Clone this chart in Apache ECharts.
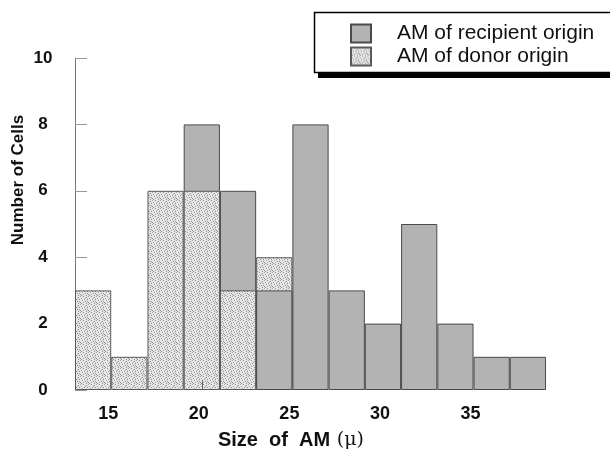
<!DOCTYPE html>
<html>
<head>
<meta charset="utf-8">
<script src="https://cdn.jsdelivr.net/npm/echarts@6/dist/echarts.min.js"></script>
<style>
html, body { margin: 0; padding: 0; background: #fff; }
#chart { width: 610px; height: 451px; }
</style>
</head>
<body>
<div id="chart"></div>
<script>
// bins are 2 units wide, centred on even sizes
var binCenters = ['14', '16', '18', '20', '22', '24', '26', '28', '30', '32', '34', '36', '38'];
var recipient = [0, 0, 0, 8, 6, 3, 8, 3, 2, 5, 2, 1, 1];
var donor = [3, 1, 6, 6, 3, 4, 0, 0, 0, 0, 0, 0, 0];
var xTickLabels = [15, 20, 25, 30, 35];
var yTicks = [0, 2, 4, 6, 8, 10];

var FONT = '"Liberation Sans", Arial, Helvetica, sans-serif';

// stipple fill for the donor bars
function stipple() {
  var c = document.createElement('canvas');
  c.width = 8; c.height = 8;
  var ctx = c.getContext('2d');
  ctx.fillStyle = '#e6e6e6';
  ctx.fillRect(0, 0, 8, 8);
  var dots = [[0, 0], [3, 0], [6, 1], [1, 2], [4, 3], [7, 3], [2, 4], [5, 5],
              [0, 6], [3, 6], [6, 7], [1, 7], [5, 2], [7, 5]];
  dots.forEach(function (p, i) {
    ctx.fillStyle = i % 3 ? '#8c8c8c' : '#a8a8a8';
    ctx.fillRect(p[0], p[1], 1, 1);
  });
  return c;
}
var dotted = { image: stipple(), repeat: 'repeat' };

function nz(v) { return v > 0 ? v : '-'; }
// shorter bar of a bin sits in front of the taller one
var recipientBack = recipient.map(nz);
var donorMid = donor.map(nz);
var recipientFront = recipient.map(function (v, i) { return v > 0 && v < donor[i] ? v : '-'; });

var chart = echarts.init(document.getElementById('chart'));
var grayStyle = { color: '#b3b3b3', borderColor: '#4a4a4a', borderWidth: 1 };
var dotStyle = { color: dotted, borderColor: '#5a5a5a', borderWidth: 1 };

chart.setOption({
  animation: false,
  backgroundColor: '#fff',
  textStyle: { fontFamily: FONT },
  grid: { left: 75, right: 64, top: 58, bottom: 61 },
  legend: {
    orient: 'vertical',
    left: 340,
    top: 13,
    padding: [10, 10, 10, 10],
    itemWidth: 20,
    itemHeight: 18,
    itemGap: 2,
    icon: 'rect',
    selectedMode: false,
    data: ['AM of recipient origin', 'AM of donor origin'],
    textStyle: { fontFamily: FONT, fontSize: 21, lineHeight: 18, color: '#111', padding: [0, 0, 0, 21] }
  },
  xAxis: [
    {
      type: 'category',
      data: binCenters,
      show: false,
      boundaryGap: true
    },
    {
      type: 'value',
      min: 13,
      max: 39,
      position: 'bottom',
      z: 10,
      axisLine: { show: false },
      splitLine: { show: false },
      axisTick: {
        show: true,
        inside: true,
        length: 10,
        customValues: [20],
        lineStyle: { color: '#666', width: 1 }
      },
      axisLabel: {
        customValues: xTickLabels,
        margin: 15,
        padding: [0, 6, 0, 0],
        fontFamily: FONT,
        fontSize: 18,
        fontWeight: 'bold',
        color: '#111'
      }
    }
  ],
  yAxis: {
    type: 'value',
    min: 0,
    max: 10,
    interval: 2,
    splitLine: { show: false },
    axisLine: { show: true, lineStyle: { color: '#777', width: 1 } },
    axisTick: { show: true, inside: true, length: 12, lineStyle: { color: '#999' } },
    axisLabel: {
      margin: 32,
      align: 'center',
      fontFamily: FONT,
      fontSize: 17,
      fontWeight: 'bold',
      color: '#111',
      formatter: function (v) { return yTicks.indexOf(v) >= 0 ? String(v) : ''; }
    }
  },
  series: [
    {
      name: 'AM of recipient origin',
      type: 'bar',
      xAxisIndex: 0,
      barWidth: '100%',
      barGap: '-100%',
      z: 2,
      itemStyle: grayStyle,
      data: recipientBack
    },
    {
      name: 'AM of donor origin',
      type: 'bar',
      xAxisIndex: 0,
      barWidth: '100%',
      barGap: '-100%',
      z: 3,
      itemStyle: dotStyle,
      data: donorMid
    },
    {
      name: 'AM of recipient origin',
      type: 'bar',
      xAxisIndex: 0,
      barWidth: '100%',
      barGap: '-100%',
      z: 4,
      itemStyle: grayStyle,
      data: recipientFront
    }
  ],
  graphic: [
    // legend frame with its drop shadow
    {
      type: 'rect',
      z: 0,
      shape: { x: 318, y: 17, width: 310, height: 61 },
      style: { fill: '#000' }
    },
    {
      type: 'rect',
      z: 1,
      shape: { x: 314.5, y: 12.5, width: 310, height: 60 },
      style: { fill: '#fff', stroke: '#000', lineWidth: 1.5 }
    },
    {
      type: 'text',
      x: 18,
      y: 180,
      rotation: Math.PI / 2,
      style: {
        text: 'Number of Cells',
        fontFamily: FONT,
        fontSize: 17,
        fontWeight: 'bold',
        fill: '#111',
        align: 'center',
        verticalAlign: 'middle'
      }
    },
    {
      type: 'text',
      x: 291,
      y: 440,
      style: {
        text: '{b|Size  of  AM}  {m|(μ)}',
        align: 'center',
        verticalAlign: 'middle',
        rich: {
          b: { fontFamily: FONT, fontSize: 20, fontWeight: 'bold', fill: '#111' },
          m: { fontFamily: '"DejaVu Serif", serif', fontSize: 19, fill: '#111' }
        }
      }
    }
  ]
});
</script>
</body>
</html>
